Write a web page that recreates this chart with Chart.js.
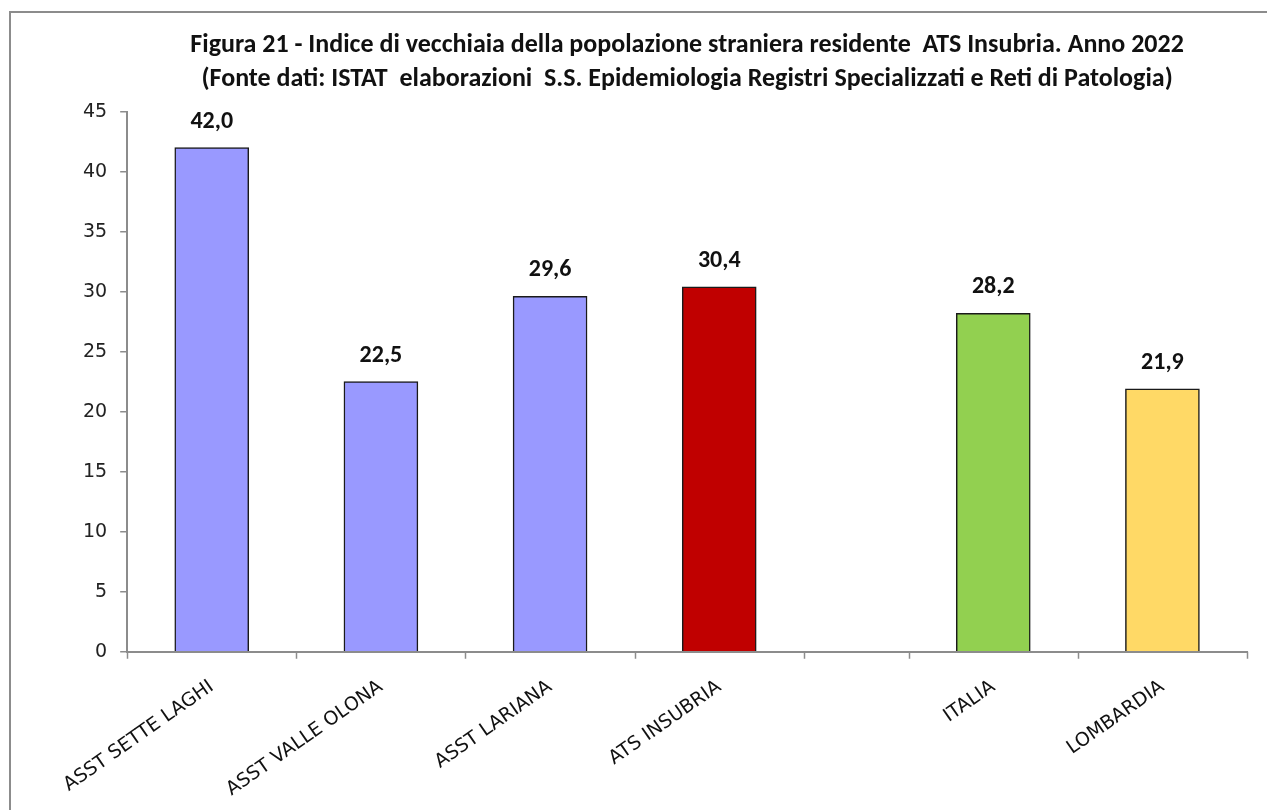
<!DOCTYPE html>
<html>
<head>
<meta charset="utf-8">
<script src="https://cdn.jsdelivr.net/npm/chart.js@4"></script>
<style>
    html, body { margin: 0; padding: 0; background: #fff; overflow: hidden; }
    #wrap { position: relative; width: 1267px; height: 810px; }
    #frame { position: absolute; left: 9px; top: 11px; width: 1280px; height: 820px; border: 2px solid #8c8c8c; box-sizing: border-box; }
    #grafico { position: absolute; left: 0; top: 0; }
</style>
</head>
<body>
<div id="wrap">
    <div id="frame"></div>
    <canvas id="grafico" width="1267" height="810"></canvas>
</div>
<script>
const categorie = ['ASST SETTE LAGHI', 'ASST VALLE OLONA', 'ASST LARIANA', 'ATS INSUBRIA', '', 'ITALIA', 'LOMBARDIA'];
const valori = [42.0, 22.5, 29.6, 30.4, null, 28.2, 21.9];
const coloriBarre = ['#9999ff', '#9999ff', '#9999ff', '#c00000', '#ffffff', '#92d050', '#ffd966'];
const tickY = [0, 5, 10, 15, 20, 25, 30, 35, 40, 45];
const titolo = [
    'Figura 21 - Indice di vecchiaia della popolazione straniera residente  ATS Insubria. Anno 2022',
    '(Fonte dati: ISTAT  elaborazioni  S.S. Epidemiologia Registri Specializzati e Reti di Patologia)'
];

const FONT_TITOLO = 'Carlito, Lato, "Open Sans", sans-serif';
const FONT_ASSI = '"DejaVu Sans", Verdana, sans-serif';
const numero = v => v.toFixed(1).replace('.', ',');

// scala a categorie dove la categoria vuota (separatore) e' piu' stretta
class ScalaConSeparatore extends Chart.CategoryScale {
    static id = 'categorieSeparate';
    static defaults = Chart.CategoryScale.defaults;

    pesi() {
        const stretto = this.options.larghezzaVuota ?? 1;
        return this.getLabels().map(l => (l === '' ? stretto : 1));
    }

    getPixelForValue(value) {
        if (typeof value !== 'number') value = this.parse(value);
        if (value === null || isNaN(value)) return NaN;
        const pesi = this.pesi();
        const totale = pesi.reduce((a, b) => a + b, 0);
        const i = Math.round(value);
        let prima = 0;
        for (let k = 0; k < i; k++) prima += pesi[k];
        return this.getPixelForDecimal((prima + pesi[i] / 2) / totale);
    }

    bordi() {
        const pesi = this.pesi();
        const totale = pesi.reduce((a, b) => a + b, 0);
        const out = [this.getPixelForDecimal(0)];
        let somma = 0;
        pesi.forEach(p => { somma += p; out.push(this.getPixelForDecimal(somma / totale)); });
        return out;
    }
}
Chart.register(ScalaConSeparatore);

// tacche dell'asse x ai bordi delle categorie
const taccheX = {
    id: 'taccheX',
    afterDraw(chart) {
        const scala = chart.scales.x;
        const { ctx } = chart;
        ctx.save();
        ctx.strokeStyle = '#8c8c8c';
        ctx.lineWidth = 1.5;
        scala.bordi().forEach(px => {
            ctx.beginPath();
            ctx.moveTo(Math.round(px) + 0.5, scala.top);
            ctx.lineTo(Math.round(px) + 0.5, scala.top + 7);
            ctx.stroke();
        });
        ctx.restore();
    }
};

// etichette sopra le barre (niente plugin datalabels offline)
const etichetteValori = {
    id: 'etichetteValori',
    afterDatasetsDraw(chart) {
        const { ctx } = chart;
        const meta = chart.getDatasetMeta(0);
        ctx.save();
        ctx.font = 'bold 24px ' + FONT_TITOLO;
        ctx.fillStyle = '#111';
        ctx.textAlign = 'center';
        ctx.textBaseline = 'alphabetic';
        meta.data.forEach((bar, i) => {
            if (valori[i] === null) return;
            ctx.fillText(numero(valori[i]), bar.x, bar.y - 20);
        });
        ctx.restore();
    }
};

new Chart(document.getElementById('grafico').getContext('2d'), {
    type: 'bar',
    data: {
        labels: categorie,
        datasets: [{
            data: valori,
            backgroundColor: coloriBarre,
            borderColor: '#1a1a1a',
            borderWidth: 1.5,
            barThickness: 74
        }]
    },
    options: {
        responsive: false,
        animation: false,
        layout: { padding: { left: 70, right: 20, top: 0, bottom: -7 } },
        plugins: {
            legend: { display: false },
            tooltip: { enabled: false },
            title: {
                display: true,
                text: titolo,
                fullSize: false,
                color: '#111',
                font: { family: FONT_TITOLO, size: 26, weight: 'bold', lineHeight: 1.3 },
                padding: { top: 29, bottom: 15 }
            }
        },
        scales: {
            y: {
                min: tickY[0],
                max: tickY[tickY.length - 1],
                afterBuildTicks: scale => { scale.ticks = tickY.map(v => ({ value: v })); },
                ticks: { color: '#222', font: { family: FONT_ASSI, size: 19 }, padding: 13 },
                grid: { display: true, drawOnChartArea: false, color: '#8c8c8c', tickLength: 7, lineWidth: 1.5 },
                border: { color: '#8c8c8c', width: 2 }
            },
            x: {
                type: 'categorieSeparate',
                larghezzaVuota: 0.62,
                offset: true,
                ticks: {
                    color: '#111',
                    font: { family: FONT_ASSI, size: 19 },
                    minRotation: 35,
                    maxRotation: 35,
                    autoSkip: false,
                    padding: 16
                },
                grid: { display: false },
                border: { color: '#8c8c8c', width: 2 }
            }
        }
    },
    plugins: [etichetteValori, taccheX]
});
</script>
</body>
</html>
